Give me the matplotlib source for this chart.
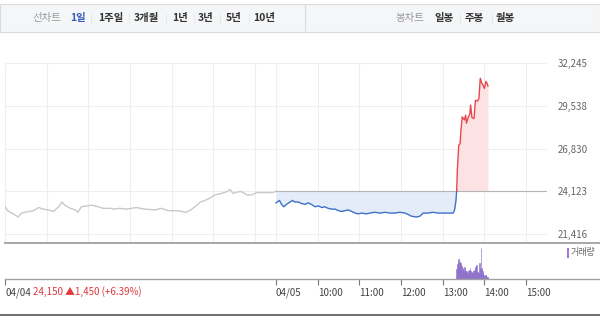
import matplotlib
matplotlib.use("Agg")
import matplotlib.pyplot as plt
from matplotlib.patches import Rectangle
from matplotlib.lines import Line2D

plt.rcParams['font.family'] = ['Noto Sans CJK KR', 'DejaVu Sans']

# minutes since 09:00 on 04/04 (04/04 session 0-390, 04/05 session 390-780)
prev_min = [0, 5, 10, 19, 24, 29, 34, 41, 48, 55, 62, 70, 77, 82, 86, 94, 101, 105, 110,
            118, 125, 134, 141, 151, 158, 165, 175, 182, 189, 201, 216, 225, 235, 249,
            261, 269, 276, 281, 288, 295, 302, 312, 319, 324, 328, 336, 341, 348, 355,
            362, 370, 377, 386, 390]
prev_price = [23150, 22850, 22750, 22500, 22750, 22800, 22850, 22900, 23100, 23000, 22950,
              22850, 23150, 23450, 23250, 23050, 22950, 22800, 23150, 23200, 23250, 23150,
              23050, 23050, 23000, 23050, 23000, 23050, 23100, 23000, 22950, 23050, 22900,
              22900, 22800, 23000, 23250, 23450, 23550, 23700, 23900, 24000, 24100, 24250,
              24000, 24100, 24100, 23900, 23900, 24050, 24050, 24050, 24050, 24150]

today_min = [390, 395, 398, 401, 405, 410, 414, 417, 422, 427, 432, 436, 441, 446, 451,
             456, 460, 465, 470, 475, 480, 484, 489, 494, 499, 504, 508, 513, 520, 525,
             532, 540, 547, 554, 561, 568, 576, 585, 592, 597, 602, 609, 616, 623, 631,
             638, 645, 647, 649, 650, 651, 653, 655, 656, 658, 661, 663, 664, 667, 669,
             670, 672, 675, 677, 680, 682, 684, 686, 688, 690, 692, 694, 695]
today_price = [23400, 23550, 23300, 23150, 23300, 23450, 23550, 23450, 23450, 23350, 23300,
               23400, 23300, 23150, 23200, 23100, 23150, 23050, 23000, 23000, 22900, 22850,
               22900, 22950, 22850, 22750, 22700, 22750, 22700, 22750, 22800, 22750, 22800,
               22750, 22750, 22800, 22750, 22550, 22500, 22550, 22750, 22750, 22800, 22750,
               22750, 22750, 22750, 22950, 23550, 24150, 25500, 27050, 27150, 27900, 28850,
               28650, 28950, 28450, 28850, 29050, 29600, 28800, 28750, 29900, 29850, 30000,
               31300, 31000, 30850, 30650, 31100, 30950, 30800]

vol_min = list(range(650, 696))
vol = [30, 46, 55, 60, 50, 56, 48, 40, 33, 28, 26, 38, 30, 23, 26, 20, 18, 24, 28, 33,
       25, 20, 18, 22, 26, 18, 28, 38, 40, 43, 23, 20, 18, 48, 30, 93, 35, 26, 18, 14,
       10, 12, 13, 8, 6, 3]

prev_close = 24150
y_ticks = [21416, 24123, 26830, 29538, 32245]
x_ticks = [0, 390, 450, 510, 570, 630, 690, 750]
x_labels = ['04/04', '04/05', '10:00', '11:00', '12:00', '13:00', '14:00', '15:00']
grid_x = [0, 60, 120, 180, 240, 300, 360, 390, 450, 510, 570, 630, 690, 750]

W, H = 600, 316
fig = plt.figure(figsize=(6, 3.16), dpi=100)

def fx(px):
    return px / W

def fy(py):
    return 1 - py / H

# toolbar
fig.patches.append(Rectangle((0, fy(31.5)), 1, fy(4) - fy(31.5), transform=fig.transFigure,
                             facecolor='#f5f6f8', edgecolor='#d9dbe0', lw=0.8))
fig.add_artist(Line2D([fx(305), fx(305)], [fy(31.5), fy(4)], color='#d9dbe0', lw=0.8))
ty = fy(18)
fig.text(fx(46.5), ty, '선차트', color='#999999', fontsize=7.5, ha='center', va='center')
left_items = [('1일', 78), ('1주일', 110.5), ('3개월', 146.5), ('1년', 179.5), ('3년', 206),
              ('5년', 234), ('10년', 264)]
for i, (t, cx) in enumerate(left_items):
    fig.text(fx(cx), ty, t, color='#3a5db5' if i == 0 else '#333333', fontsize=7.5,
             weight='bold', ha='center', va='center')
for sx in [90.5, 128.5, 165.5, 194, 220, 248.5, 460, 491.5]:
    fig.add_artist(Line2D([fx(sx), fx(sx)], [fy(14), fy(23)], color='#e2e2e2', lw=0.5))
fig.text(fx(410), ty, '봉차트', color='#999999', fontsize=7.5, ha='center', va='center')
for t, cx in [('일봉', 444.5), ('주봉', 474.5), ('월봉', 505.5)]:
    fig.text(fx(cx), ty, t, color='#333333', fontsize=7.5, weight='bold',
             ha='center', va='center')

# price panel
ax = fig.add_axes([fx(5), fy(243), fx(542), fy(63.3) - fy(243)])
ax.set_xlim(0, 780)
ax.set_ylim(20852, 32245)
for gx in grid_x:
    ax.axvline(gx, color='#eeeeee', lw=0.8, zorder=0)
for gy in y_ticks:
    ax.axhline(gy, color='#eeeeee', lw=0.8, zorder=0)

ax.plot(prev_min, prev_price, color='#c9c9c9', lw=1.0, zorder=3)

split = next(i for i, p in enumerate(today_price) if p >= prev_close)
blue_x, blue_y = today_min[:split + 1], today_price[:split + 1]
red_x, red_y = today_min[split:], today_price[split:]
ax.fill_between(blue_x, blue_y, prev_close, color='#e3ecf8', lw=0, zorder=1)
ax.fill_between(red_x, red_y, prev_close, color='#fde2e4', lw=0, zorder=1)
ax.plot([390, 780], [prev_close, prev_close], color='#b5b5b5', lw=0.8, zorder=2)
ax.plot(blue_x, blue_y, color='#3f72c9', lw=1.0, zorder=3)
ax.plot(red_x, red_y, color='#e5474f', lw=1.0, zorder=3)

ax.set_yticks(y_ticks)
ax.set_yticklabels([f'{v:,}' for v in y_ticks])
ax.yaxis.tick_right()
ax.tick_params(axis='y', length=0, pad=8, labelsize=7, labelcolor='#666666')
ax.set_xticks([])
for s in ['top', 'right', 'bottom']:
    ax.spines[s].set_visible(False)
ax.spines['left'].set_color('#eeeeee')

# volume panel
vax = fig.add_axes([fx(5), fy(279.3), fx(542), fy(243) - fy(279.3)])
vax.set_xlim(0, 780)
vax.set_ylim(0, 109)
vax.bar(vol_min, vol, width=1.0, color='#b49ce0', edgecolor='#7d5ec2', lw=0.4)
vax.set_yticks([])
vax.set_xticks(x_ticks)
vax.set_xticklabels(x_labels)
for lbl in vax.get_xticklabels():
    lbl.set_horizontalalignment('left')
vax.tick_params(axis='x', length=4, color='#777777', labelsize=7, labelcolor='#444444', pad=2)
for s in ['top', 'right', 'left', 'bottom']:
    vax.spines[s].set_visible(False)

# separators
fig.add_artist(Line2D([fx(5), 1], [fy(243), fy(243)], color='#a0a0a0', lw=1.3))
fig.add_artist(Line2D([fx(5), 1], [fy(279.3), fy(279.3)], color='#a0a0a0', lw=1.0))
fig.add_artist(Line2D([0, 1], [fy(315), fy(315)], color='#555555', lw=1.2))

# legend and info
fig.patches.append(Rectangle((fx(566.5), fy(258)), fx(2.5), fy(248) - fy(258),
                             transform=fig.transFigure, facecolor='#9a7dd0', lw=0))
fig.text(fx(571), fy(253), '거래량', color='#666666', fontsize=6.5, va='center')
fig.text(fx(33), fy(291.5), '24,150 ▲1,450 (+6.39%)', color='#e0393e', fontsize=7,
         va='center')

fig.savefig('out.png', dpi=100)
